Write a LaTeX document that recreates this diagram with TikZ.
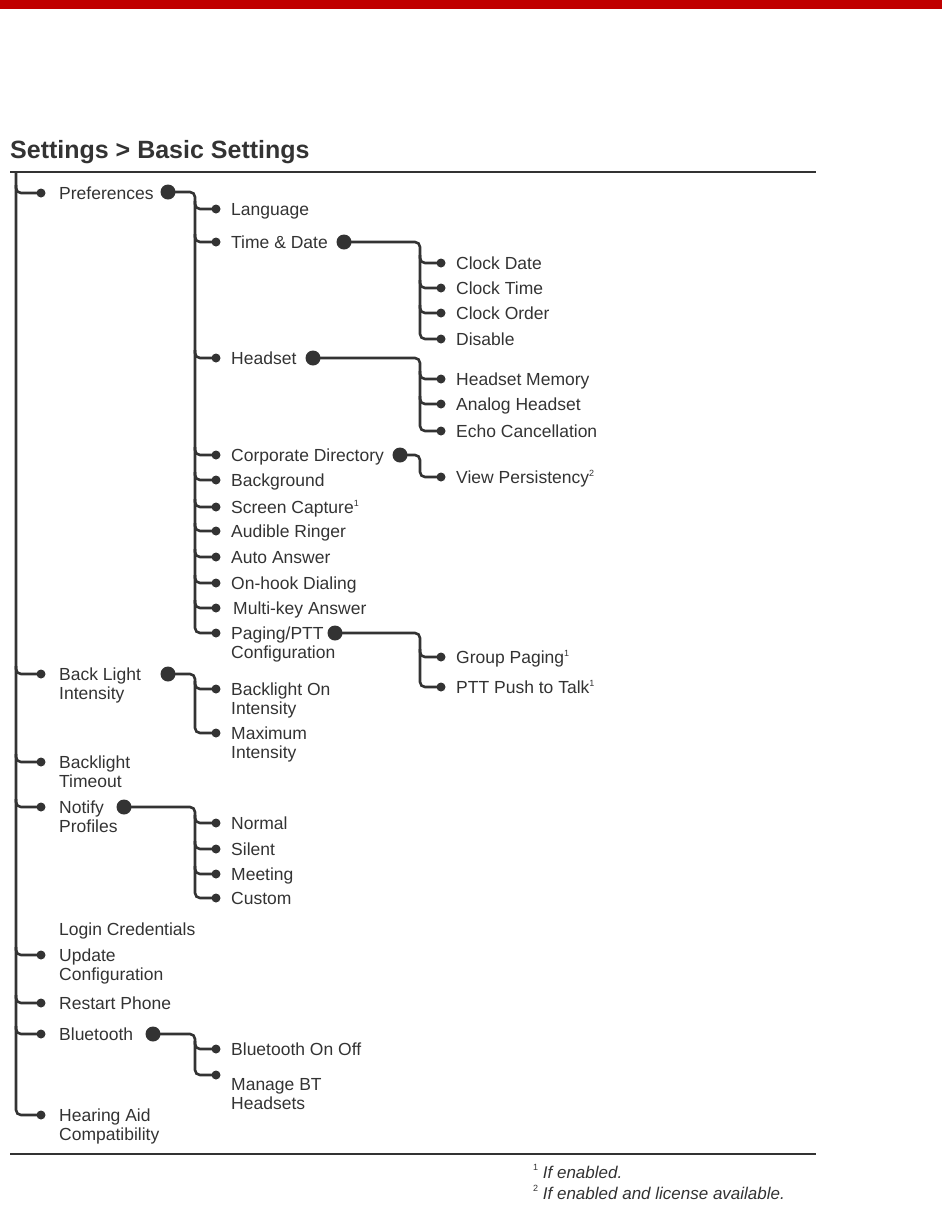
\documentclass[tikz,border=0pt]{standalone}
\usepackage{fontspec}
\setmainfont{Liberation Sans}
\usetikzlibrary{calc}
\definecolor{barred}{HTML}{C00000}
\definecolor{ink}{HTML}{333333}
\newcommand\twoline[2]{\begin{tabular}[t]{@{}l@{}}#1\\#2\end{tabular}}
\newcommand\supmark[2][7.5pt]{\raisebox{#1}{\fontsize{9}{9}\selectfont\upshape #2}}
\tikzset{
  conn/.style={draw=ink,line width=2.6pt,rounded corners=5pt},
  dot/.style={circle,fill=ink,inner sep=0pt,minimum size=9pt},
  bigdot/.style={circle,fill=ink,inner sep=0pt,minimum size=15pt},
  item/.style={anchor=base west,inner sep=0pt,text=ink,font=\fontsize{17.5}{19}\selectfont},
  rule/.style={draw=ink,line width=2.8pt},
}
\begin{document}
\begin{tikzpicture}[x=1pt,y=-1pt]
\useasboundingbox (0,0) rectangle (942,1216);
% red bar and title
\fill[barred] (0,0) rectangle (942,9);
\node[item,font=\fontsize{25}{28}\selectfont\bfseries] (title) at (10,158) {Settings > Basic Settings};
% rules
\coordinate (rule-tl) at (10,172);
\coordinate (rule-tr) at (816,172);
\coordinate (rule-bl) at (10,1154);
\coordinate (rule-br) at (816,1154);
\draw[rule] (rule-tl) -- (rule-tr);
\draw[rule] (rule-bl) -- (rule-br);
\coordinate (trunk) at (16,172);
% level 1
\foreach \n/\y/\t in {pref/193/Preferences, blint/674/\twoline{Back Light}{Intensity},
    bltime/762/\twoline{Backlight}{Timeout}, notify/807/\twoline{Notify}{Profiles},
    update/955/\twoline{Update}{Configuration}, restart/1003/Restart Phone,
    bt/1034/Bluetooth, hear/1115/\twoline{Hearing Aid}{Compatibility}}{
  \node[dot] (d-\n) at (41,\y) {};
  \node[item] (l-\n) at ([xshift=18pt,yshift=-6.5pt]d-\n.center) {\t};
}
\node[item] (l-login) at (59,935) {Login Credentials};
% level 2
\foreach \n/\y/\t in {lang/209/Language, time/242/Time \& Date, head/358/Headset,
    corp/455/Corporate Directory, bg/480/Background, scr/507/Screen Capture\supmark{1},
    ring/531/Audible Ringer, auto/557/Auto Answer, hook/583/On-hook Dialing,
    multi/608/\hspace{2pt}Multi-key Answer, pag/633/\twoline{Paging/PTT}{Configuration},
    blon/689/\twoline{Backlight On}{Intensity}, max/733/\twoline{Maximum}{Intensity},
    normal/823/Normal, silent/849/Silent, meet/874/Meeting, cust/898/Custom,
    btonoff/1049/Bluetooth On Off}{
  \node[dot] (d-\n) at (216,\y) {};
  \node[item] (l-\n) at ([xshift=15pt,yshift=-6.5pt]d-\n.center) {\t};
}
\node[dot] (d-manage) at (216,1075) {};
\node[item] (l-manage) at ([xshift=15pt,yshift=-15pt]d-manage.center) {\twoline{Manage BT}{Headsets}};
% level 3
\foreach \n/\y/\t in {cdate/263/Clock Date, ctime/288/Clock Time, corder/313/Clock Order,
    dis/339/Disable, hmem/379/Headset Memory, analog/404/Analog Headset,
    echo/431/Echo Cancellation, view/477/View Persistency\supmark{2},
    group/657/Group Paging\supmark{1}, ptt/687/PTT Push to Talk\supmark{1}}{
  \node[dot] (d-\n) at (441,\y) {};
  \node[item] (l-\n) at ([xshift=15pt,yshift=-6.5pt]d-\n.center) {\t};
}
% parent markers
\foreach \n/\x/\y in {pref/168/192, time/344/242, head/313/358, corp/400/455,
    pag/335/633, blint/168/674, notify/124/807, bt/153/1034}
  \node[bigdot] (b-\n) at (\x,\y) {};
% trunks
\draw[conn] (trunk) |- (d-hear.center);
\draw[conn] (b-pref.center) -| ([xshift=-21pt]d-pag.center) -- (d-pag.center);
\draw[conn] (b-time.center) -| ([xshift=-21pt]d-dis.center) -- (d-dis.center);
\draw[conn] (b-head.center) -| ([xshift=-21pt]d-echo.center) -- (d-echo.center);
\draw[conn] (b-corp.center) -| ([xshift=-21pt]d-view.center) -- (d-view.center);
\draw[conn] (b-pag.center) -| ([xshift=-21pt]d-ptt.center) -- (d-ptt.center);
\draw[conn] (b-blint.center) -| ([xshift=-21pt]d-max.center) -- (d-max.center);
\draw[conn] (b-notify.center) -| ([xshift=-21pt]d-cust.center) -- (d-cust.center);
\draw[conn] (b-bt.center) -| ([xshift=-21pt]d-manage.center) -- (d-manage.center);
% branches
\foreach \n in {pref,blint,bltime,notify,update,restart,bt}
  \draw[conn] (d-\n.center) -| ([xshift=-25pt,yshift=8pt]d-\n.center);
\foreach \n in {lang,time,head,corp,bg,scr,ring,auto,hook,multi,blon,normal,silent,meet,btonoff,
    cdate,ctime,corder,hmem,analog,group}
  \draw[conn] (d-\n.center) -| ([xshift=-21pt,yshift=8pt]d-\n.center);
% footnotes
\node[item,font=\fontsize{17}{20}\selectfont\itshape] (fn1) at (533,1178) {\supmark[8pt]{1} If enabled.};
\node[item,font=\fontsize{17}{20}\selectfont\itshape] (fn2) at (533,1199) {\supmark[8pt]{2} If enabled and license available.};
\end{tikzpicture}
\end{document}
